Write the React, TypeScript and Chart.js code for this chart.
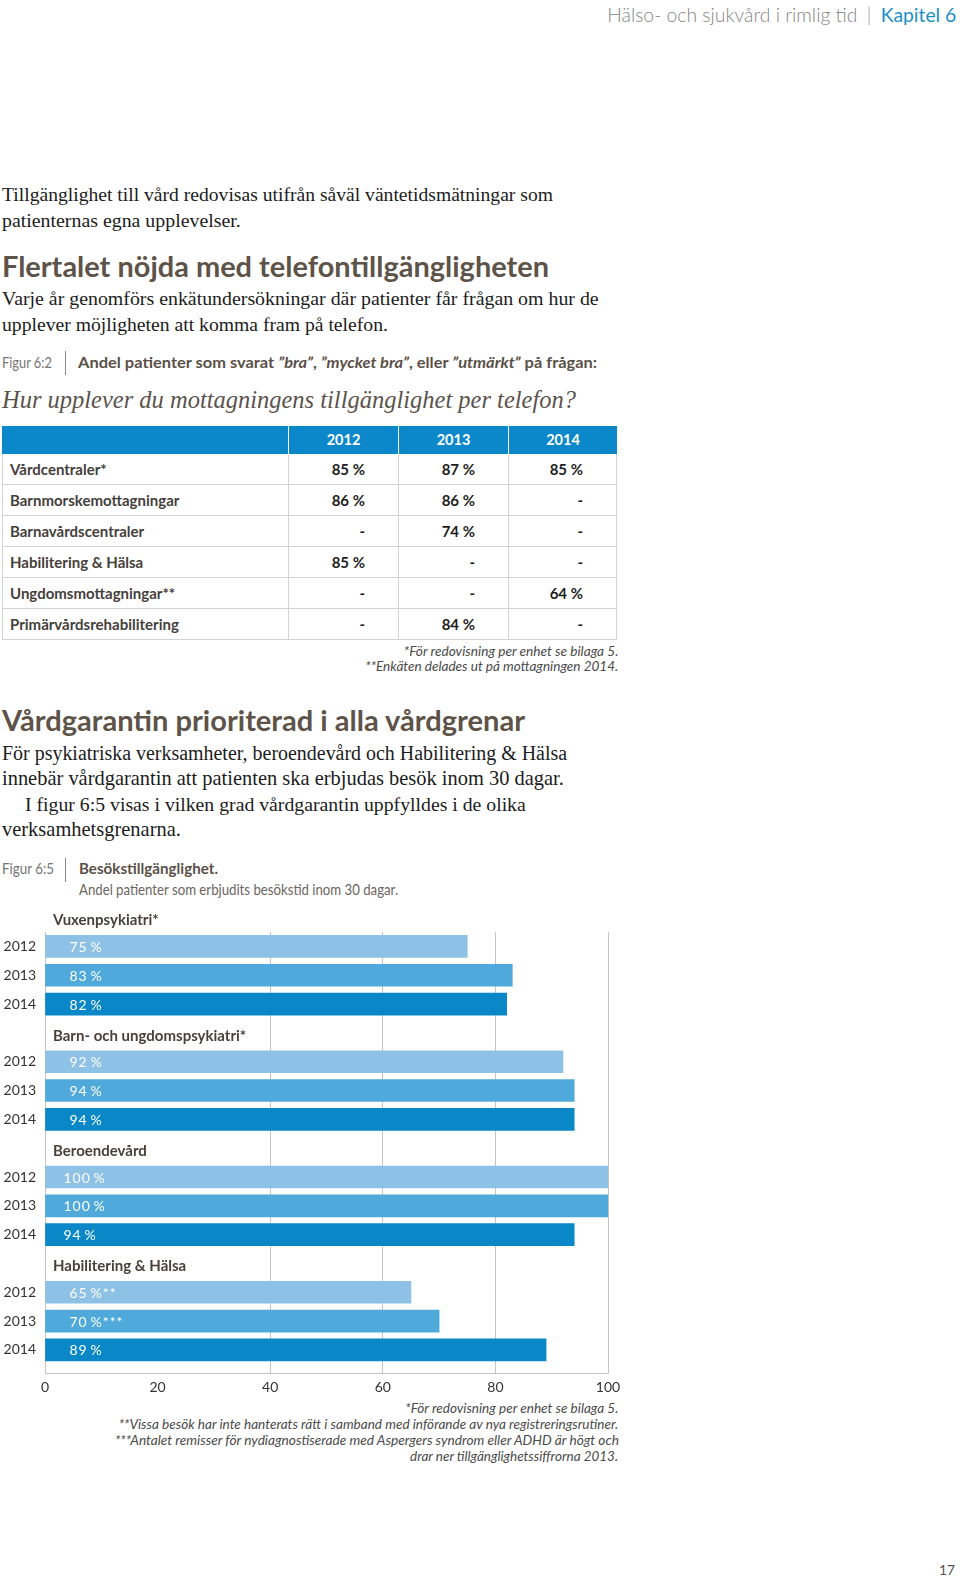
import React, { useEffect, useLayoutEffect, useRef } from 'react';
import { Chart, registerables } from 'chart.js';
Chart.register(...registerables);

const SERIF = '"Liberation Serif", "DejaVu Serif", serif';
const SANS = 'Lato, "Open Sans", sans-serif';

// ---- Figur 6:5 data ----
const groups = ['Vuxenpsykiatri*', 'Barn- och ungdomspsykiatri*', 'Beroendevård', 'Habilitering & Hälsa'];
const years = ['2012', '2013', '2014'];
const values2012 = [75, 92, 100, 65];
const values2013 = [83, 94, 100, 70];
const values2014 = [82, 94, 94, 89];
const labels2012 = ['75\u2009%', '92\u2009%', '100\u2009%', '65\u2009%**'];
const labels2013 = ['83\u2009%', '94\u2009%', '100\u2009%', '70\u2009%***'];
const labels2014 = ['82\u2009%', '94\u2009%', '94\u2009%', '89\u2009%'];
const xTickStep = 20;
const xMin = 0;
const xMax = 100;

// ---- Figur 6:2 table data ----
const tableYears = ['2012', '2013', '2014'];
const tableRows = ['Vårdcentraler*', 'Barnmorskemottagningar', 'Barnavårdscentraler', 'Habilitering & Hälsa', 'Ungdomsmottagningar**', 'Primärvårdsrehabilitering'];
const table2012 = ['85 %', '86 %', '-', '85 %', '-', '-'];
const table2013 = ['87 %', '86 %', '74 %', '-', '-', '84 %'];
const table2014 = ['85 %', '-', '-', '-', '64 %', '-'];

type TxtProps = {
  x?: number; right?: number; cy: number; w?: number; size: number; lh?: number; squeeze?: boolean;
  family: string; weight?: number | string; italic?: boolean; color: string; children: React.ReactNode;
};

function Txt({ x, right, cy, w, size, lh, squeeze, family, weight, italic, color, children }: TxtProps) {
  const ref = useRef<HTMLDivElement>(null);
  const lineH = lh ?? Math.round(size * 1.4);
  useLayoutEffect(() => {
    const el = ref.current;
    if (!el || !w) return;
    el.style.fontSize = size + 'px';
    el.style.transform = 'none';
    const m = el.getBoundingClientRect().width;
    if (m <= 0) return;
    if (squeeze) {
      el.style.transformOrigin = right != null ? 'right center' : 'left center';
      el.style.transform = `scaleX(${(w / m).toFixed(4)})`;
    } else {
      el.style.fontSize = (size * w / m).toFixed(2) + 'px';
    }
  }, []);
  const style: React.CSSProperties = {
    position: 'absolute', top: cy - lineH / 2, height: lineH, lineHeight: lineH + 'px',
    whiteSpace: 'nowrap', fontFamily: family, fontSize: size, fontWeight: (weight as any) ?? 400,
    fontStyle: italic ? 'italic' : 'normal', color,
  };
  if (right != null) style.right = 960 - right; else style.left = x ?? 0;
  return <div ref={ref} style={style}>{children}</div>;
}

function BarChart() {
  const ref = useRef<HTMLCanvasElement>(null);
  useEffect(() => {
    const series = [values2012, values2013, values2014];
    const valLabels = [labels2012, labels2013, labels2014];
    const colors = ['#8dc1e5', '#4fa9da', '#0a87c7'];
    const rowLabels = groups.flatMap(() => ['', ...years]);
    const rowOf = (g: number, k: number) => g * (years.length + 1) + 1 + k;
    const plugin = {
      id: 'groupLabels',
      afterDatasetsDraw(chart: any) {
        const { ctx, chartArea, scales } = chart;
        const y = scales.y;
        ctx.save();
        ctx.textBaseline = 'middle';
        ctx.textAlign = 'left';
        ctx.fillStyle = '#4a4039';
        ctx.font = `bold 15px ${SANS}`;
        groups.forEach((g, i) => ctx.fillText(g, chartArea.left + 8, y.getPixelForValue(i * (years.length + 1)) + 3));
        ctx.fillStyle = '#ffffff';
        ctx.font = `14px ${SANS}`;
        (ctx as any).letterSpacing = '1px';
        chart.data.datasets.forEach((_ds: any, k: number) => {
          chart.getDatasetMeta(k).data.forEach((bar: any, i: number) => {
            const off = i === 2 ? 18 : 24;
            ctx.fillText(valLabels[k][i], bar.base + off, bar.y + 1);
          });
        });
        ctx.restore();
      },
    };
    const chart = new Chart(ref.current as HTMLCanvasElement, {
      type: 'bar',
      data: {
        datasets: years.map((yr, k) => ({
          label: yr,
          data: groups.map((_, i) => ({ x: series[k][i], y: rowOf(i, k) })),
          backgroundColor: colors[k],
          borderWidth: 0,
          barThickness: 22,
          grouped: false,
        })) as any,
      },
      options: {
        indexAxis: 'y',
        animation: false,
        responsive: false,
        layout: { padding: { top: 32, right: 32, left: 0, bottom: 0 } },
        plugins: { legend: { display: false }, tooltip: { enabled: false } },
        scales: {
          x: {
            type: 'linear', min: xMin, max: xMax, position: 'bottom',
            ticks: { stepSize: xTickStep, padding: 6, color: '#333', font: { family: SANS, size: 14 } },
            grid: {
              color: (c: any) => (c.tick && c.tick.value === 20 ? 'rgba(0,0,0,0)' : '#c4c4c4'),
              lineWidth: 1, drawTicks: false,
            },
            border: { display: true, color: '#c4c4c4' },
            afterFit: (s: any) => { s.height = 27; },
          },
          y: {
            type: 'linear', reverse: true, min: 0.5, max: 15.8, bounds: 'data', offset: false,
            grid: { display: false, drawTicks: false, offset: false },
            border: { display: true, color: '#c4c4c4' },
            afterBuildTicks: (s: any) => {
              s.ticks = rowLabels.map((l, r) => ({ value: r, l })).filter((t) => t.l !== '').map((t) => ({ value: t.value }));
            },
            ticks: {
              autoSkip: false, padding: 9, color: '#333', font: { family: SANS, size: 14 },
              callback: (v: any) => rowLabels[Math.round(Number(v))] ?? '',
            },
            afterFit: (s: any) => { s.width = 45; },
          },
        },
      } as any,
      plugins: [plugin],
    });
    return () => chart.destroy();
  }, []);
  return <canvas ref={ref} width={640} height={500} style={{ position: 'absolute', left: 0, top: 900, width: 640, height: 500 }} />;
}

function Table() {
  const colW = [286, 110, 110, 109];
  const border = '1px solid #d3d3d3';
  const cols = [table2012, table2013, table2014];
  return (
    <div style={{ position: 'absolute', left: 2, top: 426, width: 615, fontFamily: SANS, fontWeight: 700 }}>
      <div style={{ display: 'flex', height: 28, background: '#0a88c9', color: '#fff', fontSize: 14.5 }}>
        {colW.map((w, i) => (
          <div key={i} style={{ width: w, boxSizing: 'border-box', borderLeft: i ? '1px solid #ffffff' : 'none', textAlign: 'center', lineHeight: '28px' }}>
            {i ? tableYears[i - 1] : ''}
          </div>
        ))}
      </div>
      {tableRows.map((r, ri) => (
        <div key={ri} style={{ display: 'flex', height: 31, boxSizing: 'border-box', borderBottom: border, borderLeft: border, borderRight: border }}>
          {colW.map((w, i) => (
            <div key={i} style={{
              width: i === 0 ? w - 1 : i === 3 ? w - 1 : w, boxSizing: 'border-box', borderLeft: i ? border : 'none',
              lineHeight: '30px', fontSize: 15,
              textAlign: i ? 'right' : 'left', paddingLeft: i ? 0 : 7, paddingRight: i ? 33 : 0,
              color: i ? '#1e1e1e' : '#45403b',
            }}>
              {i ? cols[i - 1][ri] : r}
            </div>
          ))}
        </div>
      ))}
    </div>
  );
}

export default function App() {
  const body = '#1c1c1c';
  const head = '#5e5349';
  const cap = '#747474';
  const note = '#4a4a4a';
  return (
    <div style={{ position: 'absolute', left: 0, top: 0, width: 960, height: 1580, background: '#fff', overflow: 'hidden' }}>
      <Txt right={956} cy={14} w={349} size={19} squeeze family={SANS} weight={300} color="#858585">
        Hälso- och sjukvård i rimlig tid <span style={{ color: '#9a9a9a', margin: '0 4px' }}>|</span> <span style={{ color: '#1b8fc4', fontWeight: 400 }}>Kapitel 6</span>
      </Txt>

      <Txt x={2} cy={194.5} w={551} size={18.5} family={SERIF} color={body}>Tillgänglighet till vård redovisas utifrån såväl väntetidsmätningar som</Txt>
      <Txt x={2} cy={219.5} w={239} size={18.5} family={SERIF} color={body}>patienternas egna upplevelser.</Txt>

      <Txt x={2} cy={266} w={547} size={28} squeeze family={SANS} weight={700} color={head}>Flertalet nöjda med telefontillgängligheten</Txt>
      <Txt x={2} cy={298} w={597} size={18.5} family={SERIF} color={body}>Varje år genomförs enkätundersökningar där patienter får frågan om hur de</Txt>
      <Txt x={2} cy={323.5} w={386} size={18.5} family={SERIF} color={body}>upplever möjligheten att komma fram på telefon.</Txt>

      <Txt x={2} cy={361.5} w={50} size={16} squeeze family={SANS} weight={400} color={cap}>Figur 6:2</Txt>
      <div style={{ position: 'absolute', left: 65, top: 351, width: 1, height: 24, background: '#8a8a8a' }} />
      <Txt x={77.5} cy={361.5} w={519} size={16} squeeze family={SANS} weight={700} color="#5a5048">
        Andel patienter som svarat <i>”bra”</i>, <i>”mycket bra”</i>, eller <i>”utmärkt”</i> på frågan:
      </Txt>
      <Txt x={2} cy={400} w={574} size={24} family={SERIF} italic color="#5b534d">Hur upplever du mottagningens tillgänglighet per telefon?</Txt>

      <Table />

      <Txt right={618.5} cy={651.5} w={214.5} size={12.5} squeeze family={SANS} italic weight={400} color={note}>*För redovisning per enhet se bilaga 5.</Txt>
      <Txt right={618.5} cy={667} w={253} size={12.5} squeeze family={SANS} italic weight={400} color={note}>**Enkäten delades ut på mottagningen 2014.</Txt>

      <Txt x={2} cy={720} w={523} size={28} squeeze family={SANS} weight={700} color={head}>Vårdgarantin prioriterad i alla vårdgrenar</Txt>
      <Txt x={2} cy={752.5} w={565} size={18.5} family={SERIF} color={body}>För psykiatriska verksamheter, beroendevård och Habilitering &amp; Hälsa</Txt>
      <Txt x={2} cy={777.6} w={562} size={18.5} family={SERIF} color={body}>innebär vårdgarantin att patienten ska erbjudas besök inom 30 dagar.</Txt>
      <Txt x={25} cy={803.8} w={501} size={18.5} family={SERIF} color={body}>I figur 6:5 visas i vilken grad vårdgarantin uppfylldes i de olika</Txt>
      <Txt x={2} cy={829} w={179} size={18.5} family={SERIF} color={body}>verksamhetsgrenarna.</Txt>

      <Txt x={2} cy={868} w={52} size={16} squeeze family={SANS} weight={400} color={cap}>Figur 6:5</Txt>
      <div style={{ position: 'absolute', left: 65, top: 858, width: 1, height: 24, background: '#8a8a8a' }} />
      <Txt x={78.5} cy={868} w={139} size={16} squeeze family={SANS} weight={700} color="#5a5048">Besökstillgänglighet.</Txt>
      <Txt x={78.5} cy={888.5} w={319} size={16} squeeze family={SANS} weight={400} color="#6d6660">Andel patienter som erbjudits besökstid inom 30 dagar.</Txt>

      <BarChart />

      <Txt right={618.5} cy={1409} w={213} size={12.5} squeeze family={SANS} italic weight={400} color={note}>*För redovisning per enhet se bilaga 5.</Txt>
      <Txt right={618.5} cy={1424.5} w={499.5} size={12.5} squeeze family={SANS} italic weight={400} color={note}>**Vissa besök har inte hanterats rätt i samband med införande av nya registreringsrutiner.</Txt>
      <Txt right={618.5} cy={1440.5} w={504} size={12.5} squeeze family={SANS} italic weight={400} color={note}>***Antalet remisser för nydiagnostiserade med Aspergers syndrom eller ADHD är högt och</Txt>
      <Txt right={618.5} cy={1456.6} w={208} size={12.5} squeeze family={SANS} italic weight={400} color={note}>drar ner tillgänglighetssiffrorna 2013.</Txt>

      <Txt right={955} cy={1569} w={16} size={18} family={SANS} color="#555">17</Txt>
    </div>
  );
}
